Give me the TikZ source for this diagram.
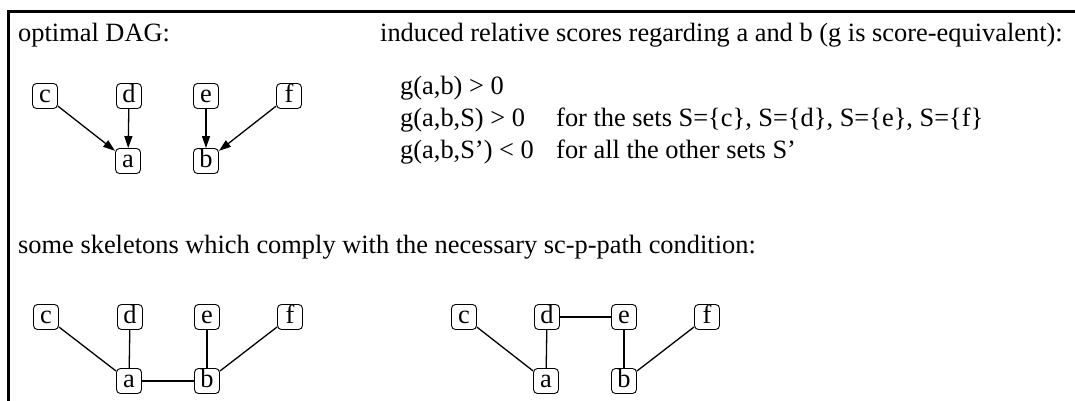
\documentclass[tikz,border=0pt]{standalone}
\usepackage{fontspec}
\setmainfont{Liberation Serif}
\usetikzlibrary{arrows.meta}
\begin{document}
\begin{tikzpicture}[x=1pt,y=-1pt,
  every node/.style={font=\fontsize{26.4}{31}\selectfont},
  var/.style={draw, line width=0.9pt, rounded corners=4pt,
    minimum width=25pt, minimum height=25pt, inner sep=0pt,
    text height=16pt, text depth=4pt},
  txt/.style={anchor=base west, inner sep=0pt},
  arc/.style={line width=1.3pt, -{Triangle[length=12pt,width=8pt]}},
  edge/.style={line width=1.3pt}]
  \useasboundingbox (0,0) rectangle (1075,400);
  % outer frame (runs past the right and bottom edges)
  \draw[line width=3pt] (8,420) -- (8,11) -- (1090,11);

  % headings and score listing
  \node[txt] (t1) at (18,41) {optimal DAG:};
  \node[txt] (t2) at (380,41) {induced relative scores regarding a and b (g is score-equivalent):};
  \node[txt] (s1) at (400,94) {g(a,b) > 0};
  \node[txt] (s2) at (400,126) {g(a,b,S) > 0};
  \node[txt] (s2b) at (556,126) {for the sets S=\{c\}, S=\{d\}, S=\{e\}, S=\{f\}};
  \node[txt] (s3) at (400,158) {g(a,b,S’) < 0};
  \node[txt] (s3b) at (556,158) {for all the other sets S’};
  \node[txt] (t3) at (18,253) {some skeletons which comply with the necessary sc-p-path condition:};

  % optimal DAG
  \node[var] (c1) at (45,96) {c};
  \node[var] (d1) at (129,96) {d};
  \node[var] (e1) at (206,96) {e};
  \node[var] (f1) at (289,96) {f};
  \node[var] (a1) at (128,161) {a};
  \node[var] (b1) at (206,161) {b};
  \draw[arc] (c1) -- (a1);
  \draw[arc] (d1) -- (a1);
  \draw[arc] (e1) -- (b1);
  \draw[arc] (f1) -- (b1);

  % first skeleton
  \node[var] (c2) at (46,317) {c};
  \node[var] (d2) at (130,317) {d};
  \node[var] (e2) at (207,317) {e};
  \node[var] (f2) at (290,317) {f};
  \node[var] (a2) at (129,381) {a};
  \node[var] (b2) at (207,381) {b};
  \draw[edge] (c2) -- (a2);
  \draw[edge] (d2) -- (a2);
  \draw[edge] (a2) -- (b2);
  \draw[edge] (e2) -- (b2);
  \draw[edge] (f2) -- (b2);

  % second skeleton
  \node[var] (c3) at (464,317) {c};
  \node[var] (d3) at (547,317) {d};
  \node[var] (e3) at (624,317) {e};
  \node[var] (f3) at (707,317) {f};
  \node[var] (a3) at (546,381) {a};
  \node[var] (b3) at (624,381) {b};
  \draw[edge] (c3) -- (a3);
  \draw[edge] (d3) -- (a3);
  \draw[edge] (d3) -- (e3);
  \draw[edge] (e3) -- (b3);
  \draw[edge] (f3) -- (b3);
\end{tikzpicture}
\end{document}
